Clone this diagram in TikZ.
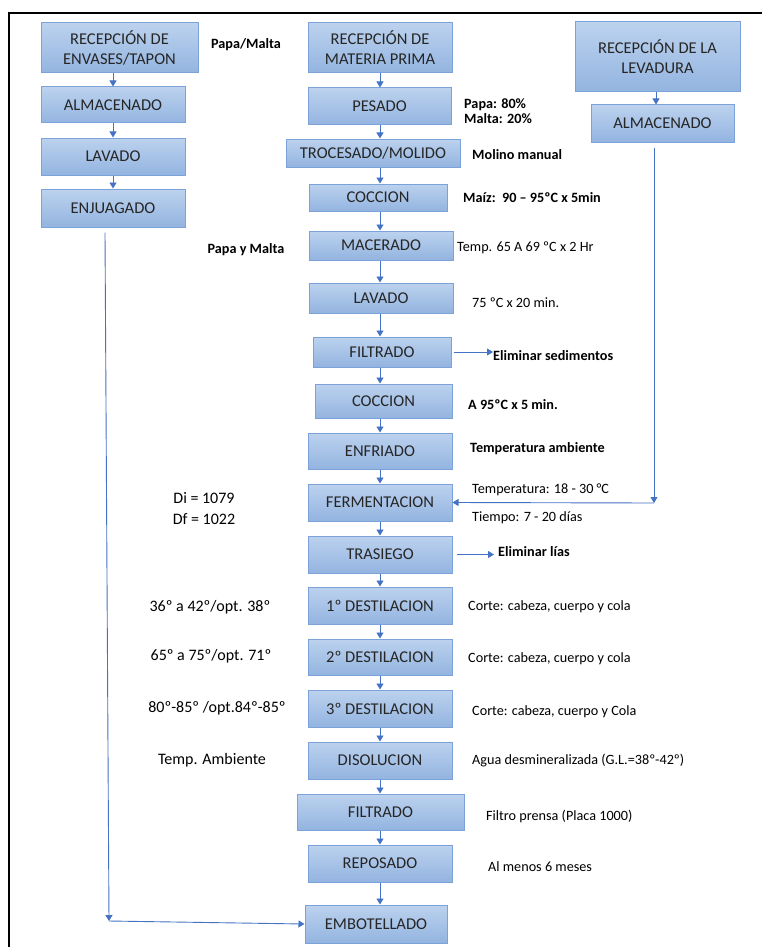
\documentclass[tikz,border=0pt]{standalone}
\usepackage{fontspec}
\setmainfont{Carlito}
\usetikzlibrary{arrows.meta}
\definecolor{borde}{HTML}{7BA3DA}
\definecolor{arriba}{HTML}{BCD2EE}
\definecolor{abajo}{HTML}{93B4E0}
\definecolor{linea}{HTML}{4472C4}
\tikzset{
  caja/.style={draw=borde,line width=1pt,top color=arriba,bottom color=abajo,
    inner sep=0pt,align=center,font=\fontsize{16.5}{20}\selectfont,text=black!85},
  flecha/.style={draw=linea,line width=0.9pt,-{Triangle[length=6pt,width=7pt]}},
  nota/.style={anchor=west,inner sep=0pt,font=\fontsize{14.2}{17}\selectfont},
  notab/.style={nota,font=\fontsize{14.2}{17}\selectfont\bfseries},
  izq/.style={inner sep=0pt,font=\fontsize{16}{21}\selectfont,align=center}
}
\begin{document}
\begin{tikzpicture}[x=1pt,y=-1pt]
	\useasboundingbox (0,0) rectangle (762,947);
	\draw[line width=2pt] (762,13) -- (9,13) -- (9,947);
	% columna central
	\node[caja,minimum width=144,minimum height=50] (mp) at (380,48) {RECEPCIÓN DE\\MATERIA PRIMA};
	\node[caja,minimum width=143,minimum height=37] (pes) at (379.5,106.5) {PESADO};
	\node[caja,minimum width=174,minimum height=28] (tro) at (373,153) {TROCESADO/MOLIDO};
	\node[caja,minimum width=138,minimum height=27] (coc) at (378,197.5) {COCCION};
	\node[caja,minimum width=144,minimum height=29] (mac) at (381,245.5) {MACERADO};
	\node[caja,minimum width=144,minimum height=30] (lav) at (381,298) {LAVADO};
	\node[caja,minimum width=138,minimum height=30] (fil) at (382,352) {FILTRADO};
	\node[caja,minimum width=137,minimum height=34] (cocb) at (383.5,401) {COCCION};
	\node[caja,minimum width=144,minimum height=36] (enf) at (380,451) {ENFRIADO};
	\node[caja,minimum width=144,minimum height=37] (fer) at (380,502.5) {FERMENTACION};
	\node[caja,minimum width=144,minimum height=37] (tra) at (380,554.5) {TRASIEGO};
	\node[caja,minimum width=144,minimum height=37] (da) at (380,605.5) {1º DESTILACION};
	\node[caja,minimum width=144,minimum height=36] (db) at (380,657) {2º DESTILACION};
	\node[caja,minimum width=144,minimum height=37] (dc) at (380,708.5) {3º DESTILACION};
	\node[caja,minimum width=144,minimum height=37] (dis) at (380,760.5) {DISOLUCION};
	\node[caja,minimum width=167,minimum height=36] (filb) at (380.5,812) {FILTRADO};
	\node[caja,minimum width=144,minimum height=37] (rep) at (380,863.5) {REPOSADO};
	\node[caja,minimum width=142,minimum height=38] (emb) at (376,924) {EMBOTELLADO};
	\foreach \a/\b in {mp/pes,pes/tro,tro/coc,coc/mac,mac/lav,lav/fil,fil/cocb,cocb/enf,enf/fer,
		fer/tra,tra/da,da/db,db/dc,dc/dis,dis/filb,filb/rep,rep/emb}
	\draw[flecha] (\a.south -| 380,0) -- (\b.north -| 380,0);
	% envases
	\node[caja,minimum width=157,minimum height=50] (env) at (119.5,48) {RECEPCIÓN DE\\ENVASES/TAPON};
	\node[caja,minimum width=144,minimum height=36] (alm) at (113,105) {ALMACENADO};
	\node[caja,minimum width=144,minimum height=37] (lavi) at (113,156.5) {LAVADO};
	\node[caja,minimum width=144,minimum height=38] (enj) at (113,208) {ENJUAGADO};
	\foreach \a/\b in {env/alm,alm/lavi,lavi/enj}
	\draw[flecha] (\a.south -| 113,0) -- (\b.north -| 113,0);
	\coordinate (esq) at (109,921);
	\draw[flecha] ([yshift=-5pt]enj.south -| 105,0) -- (esq);
	\draw[flecha] (esq) -- (emb.west);
	% levadura
	\node[caja,minimum width=165,minimum height=70] (lev) at (657.5,57) {RECEPCIÓN DE LA\\LEVADURA};
	\node[caja,minimum width=143,minimum height=37] (almb) at (662.5,123.5) {ALMACENADO};
	\draw[flecha] (lev.south -| 656,0) -- (almb.north -| 656,0);
	\coordinate (esqb) at (654,503);
	\draw[flecha] ([yshift=-5pt]esqb |- almb.south) -- (esqb);
	\draw[flecha] (esqb) -- (fer.east);
	% notas
	\node[notab,anchor=center] (n1) at (246,45) {Papa/Malta};
	\node[notab,align=left] (n2) at (464,111) {Papa: 80\%\\[-2pt]Malta: 20\%};
	\node[notab] (n3) at (472,155) {Molino manual};
	\node[notab] (n4) at (463,198) {Maíz:\ \ 90 – 95ºC x 5min};
	\node[notab,anchor=center] (n5) at (246,250) {Papa y Malta};
	\node[nota] (n6) at (457,248) {Temp. 65 A 69 ºC x 2 Hr};
	\node[nota] (n7) at (472,303) {75 ºC x 20 min.};
	\node[notab] (elima) at (493,356) {Eliminar sedimentos};
	\draw[flecha] ([xshift=2pt]fil.east) -- (fil.east -| elima.west);
	\node[notab] (n8) at (468,405) {A 95ºC x 5 min.};
	\node[notab] (n9) at (470,449) {Temperatura ambiente};
	\node[nota] (n10) at (472,490) {Temperatura: 18 - 30 °C};
	\node[nota] (n11) at (472,518) {Tiempo: 7 - 20 días};
	\node[notab] (elimb) at (498,552) {Eliminar lías};
	\draw[flecha] ([xshift=4pt]tra.east) -- ([xshift=-4pt]tra.east -| elimb.west);
	\node[izq] (d1) at (204,509) {Di = 1079\\Df = 1022};
	\node[nota] (c1) at (468,607) {Corte: cabeza, cuerpo y cola};
	\node[nota] (c2) at (468,659) {Corte: cabeza, cuerpo y cola};
	\node[nota] (c3) at (472,712) {Corte: cabeza, cuerpo y Cola};
	\node[izq] (g1) at (210,607) {36º a 42º/opt. 38º};
	\node[izq] (g2) at (211,656) {65º a 75º/opt. 71º};
	\node[izq] (g3) at (217,708) {80º-85º /opt.84º-85º};
	\node[izq] (g4) at (212,760) {Temp. Ambiente};
	\node[nota] (n12) at (472,761) {Agua desmineralizada (G.L.=38º-42º)};
	\node[nota] (n13) at (486,816) {Filtro prensa (Placa 1000)};
	\node[nota] (n14) at (488,867) {Al menos 6 meses};
\end{tikzpicture}
\end{document}
